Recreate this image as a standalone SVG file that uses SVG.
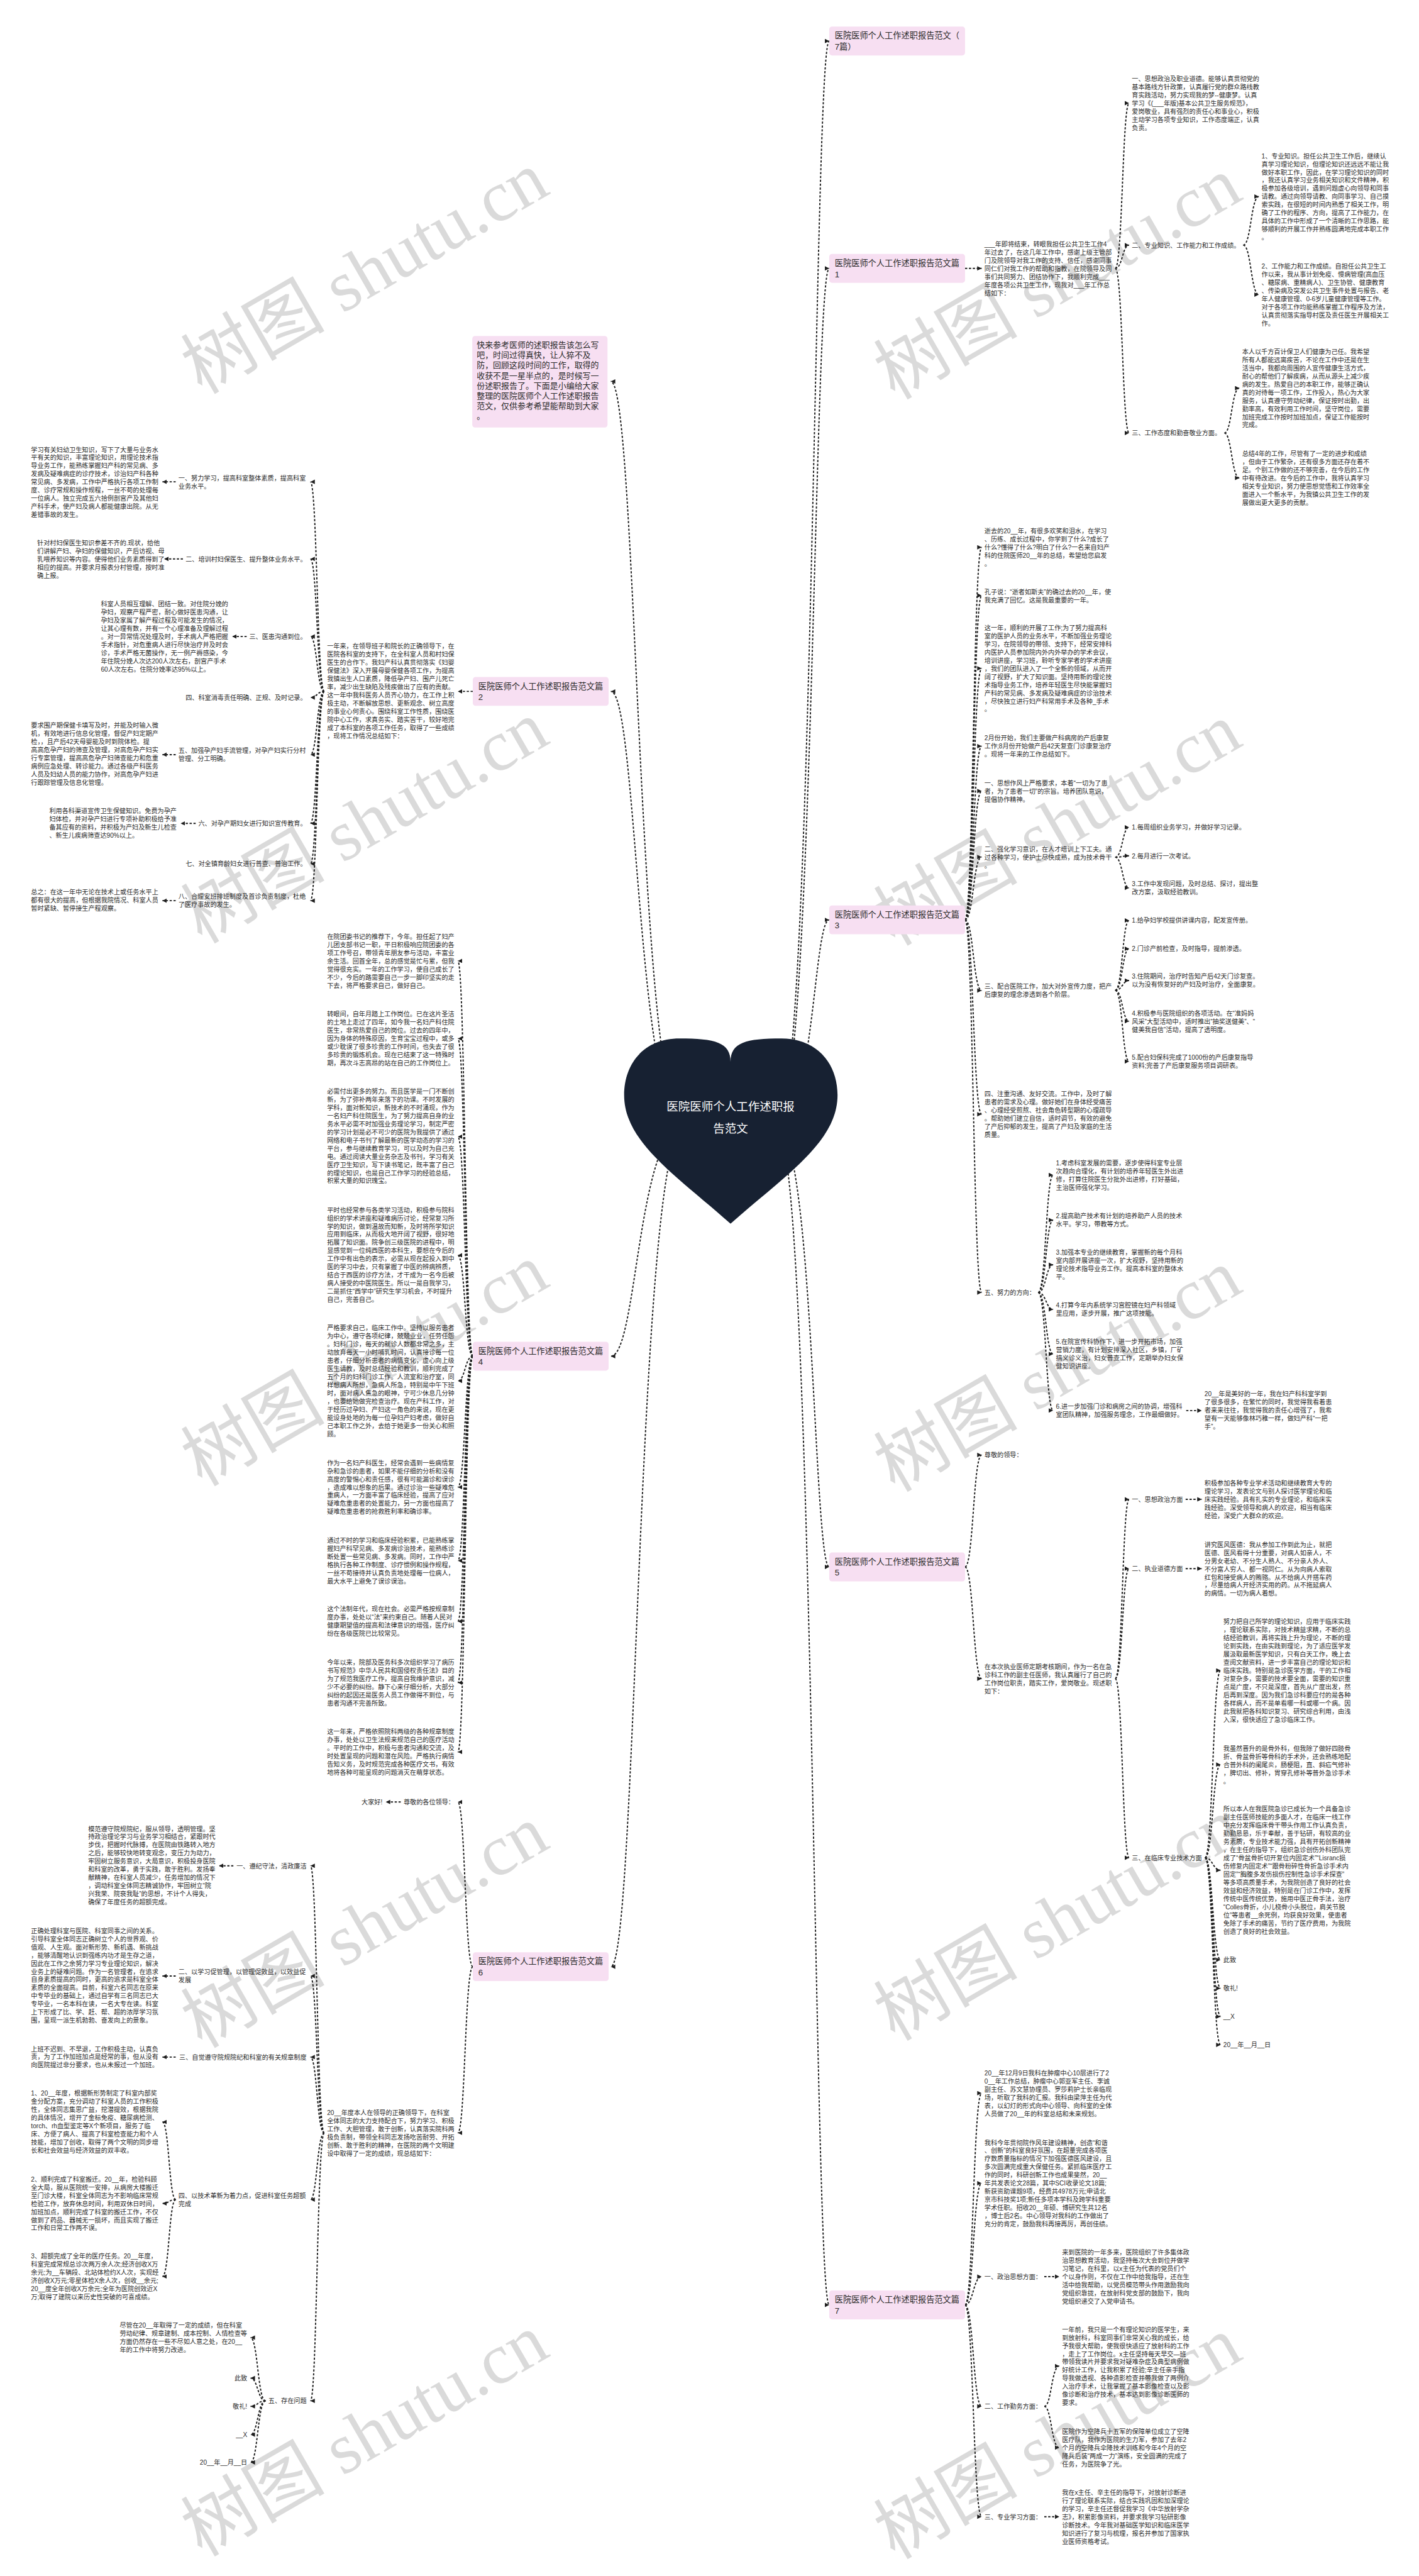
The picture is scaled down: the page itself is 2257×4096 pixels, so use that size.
<svg xmlns="http://www.w3.org/2000/svg" width="2257" height="4096" viewBox="0 0 2257 4096">
<defs>
<style>
.t{font-family:'Liberation Sans','Noto Sans CJK SC',sans-serif;font-size:11.5px;fill:#2b2b2b}
.lb{font-family:'Liberation Sans','Noto Sans CJK SC',sans-serif;font-size:15px;fill:#2b2b2b}
.it{font-family:'Liberation Sans','Noto Sans CJK SC',sans-serif;font-size:14.7px;fill:#2b2b2b}
.box{fill:#f7dff2}
.c{fill:none;stroke:#1e1e1e;stroke-width:2.2;stroke-dasharray:4 3;marker-end:url(#a)}
.wm{font-family:'Liberation Serif','Noto Sans CJK SC',serif;font-size:130px;fill:#dadada}
</style>
<marker id="a" markerUnits="userSpaceOnUse" markerWidth="9" markerHeight="9" refX="8" refY="4" orient="auto"><path d="M0,0 L8,4 L0,8 z" fill="#1e1e1e"/></marker>
</defs>
<rect width="2257" height="4096" fill="#ffffff"/>
<g transform="scale(0.88164)">
<g id="watermarks" class="wm" text-anchor="middle">
<text x="680" y="530" transform="rotate(-30 680 530)">树图 shutu.cn</text>
<text x="1930" y="540" transform="rotate(-30 1930 540)">树图 shutu.cn</text>
<text x="680" y="1521" transform="rotate(-30 680 1521)">树图 shutu.cn</text>
<text x="1930" y="1525" transform="rotate(-30 1930 1525)">树图 shutu.cn</text>
<text x="680" y="2500" transform="rotate(-30 680 2500)">树图 shutu.cn</text>
<text x="1930" y="2510" transform="rotate(-30 1930 2510)">树图 shutu.cn</text>
<text x="680" y="3513" transform="rotate(-30 680 3513)">树图 shutu.cn</text>
<text x="1930" y="3500" transform="rotate(-30 1930 3500)">树图 shutu.cn</text>
<text x="680" y="4430" transform="rotate(-30 680 4430)">树图 shutu.cn</text>
<text x="1930" y="4435" transform="rotate(-30 1930 4435)">树图 shutu.cn</text>
</g>
<g id="connectors">
<path class="c" d="M1400,2030 C1468,2030 1468,74 1496,74"/>
<path class="c" d="M1400,2030 C1468,2030 1468,484 1496,484"/>
<path class="c" d="M1400,2030 C1468,2030 1468,1659 1496,1659"/>
<path class="c" d="M1400,2030 C1468,2030 1468,2826 1496,2826"/>
<path class="c" d="M1400,2030 C1468,2030 1468,4157 1496,4157"/>
<path class="c" d="M1236,2030 C1150,2030 1150,688 1102,688"/>
<path class="c" d="M1236,2030 C1150,2030 1150,1247 1102,1247"/>
<path class="c" d="M1236,2030 C1150,2030 1150,2446 1102,2446"/>
<path class="c" d="M1236,2030 C1150,2030 1150,3547 1102,3547"/>
<path class="c" d="M1741,484 L1771,484"/>
<path class="c" d="M2012,484 C2025,484 2025,186 2037,186"/>
<path class="c" d="M2012,484 C2025,484 2025,442 2037,442"/>
<path class="c" d="M2012,484 C2025,484 2025,781 2037,781"/>
<path class="c" d="M2243,442 C2257,442 2257,354.5 2271,354.5"/>
<path class="c" d="M2243,442 C2257,442 2257,531.5 2271,531.5"/>
<path class="c" d="M2209,781 C2222,781 2222,700 2236,700"/>
<path class="c" d="M2209,781 C2222,781 2222,862 2236,862"/>
<path class="c" d="M1741,1659 C1756,1659 1756,987 1771,987"/>
<path class="c" d="M1741,1659 C1756,1659 1756,1074 1771,1074"/>
<path class="c" d="M1741,1659 C1756,1659 1756,1205.5 1771,1205.5"/>
<path class="c" d="M1741,1659 C1756,1659 1756,1345.7 1771,1345.7"/>
<path class="c" d="M1741,1659 C1756,1659 1756,1426.7 1771,1426.7"/>
<path class="c" d="M1741,1659 C1756,1659 1756,1545.7 1771,1545.7"/>
<path class="c" d="M1741,1659 C1756,1659 1756,1786.4 1771,1786.4"/>
<path class="c" d="M1741,1659 C1756,1659 1756,2009.7 1771,2009.7"/>
<path class="c" d="M1741,1659 C1756,1659 1756,2331 1771,2331"/>
<path class="c" d="M2012,1546 C2025,1546 2025,1492 2037,1492"/>
<path class="c" d="M2012,1546 C2025,1546 2025,1543.5 2037,1543.5"/>
<path class="c" d="M2012,1546 C2025,1546 2025,1601.4 2037,1601.4"/>
<path class="c" d="M2012,1786 C2025,1786 2025,1660 2037,1660"/>
<path class="c" d="M2012,1786 C2025,1786 2025,1711 2037,1711"/>
<path class="c" d="M2012,1786 C2025,1786 2025,1768.4 2037,1768.4"/>
<path class="c" d="M2012,1786 C2025,1786 2025,1841.7 2037,1841.7"/>
<path class="c" d="M2012,1786 C2025,1786 2025,1914.4 2037,1914.4"/>
<path class="c" d="M1873,2331 C1887,2331 1887,2119.1 1900,2119.1"/>
<path class="c" d="M1873,2331 C1887,2331 1887,2200.4 1900,2200.4"/>
<path class="c" d="M1873,2331 C1887,2331 1887,2281 1900,2281"/>
<path class="c" d="M1873,2331 C1887,2331 1887,2361.4 1900,2361.4"/>
<path class="c" d="M1873,2331 C1887,2331 1887,2442 1900,2442"/>
<path class="c" d="M1873,2331 C1887,2331 1887,2543.9 1900,2543.9"/>
<path class="c" d="M2140,2544 L2168,2544"/>
<path class="c" d="M1741,2826 C1756,2826 1756,2624 1771,2624"/>
<path class="c" d="M1741,2826 C1756,2826 1756,3027.5 1771,3027.5"/>
<path class="c" d="M2012,3027.5 C2025,3027.5 2025,2704 2037,2704"/>
<path class="c" d="M2012,3027.5 C2025,3027.5 2025,2829 2037,2829"/>
<path class="c" d="M2012,3027.5 C2025,3027.5 2025,3350.5 2037,3350.5"/>
<path class="c" d="M2139,2704 L2168,2704"/>
<path class="c" d="M2139,2829 L2168,2829"/>
<path class="c" d="M2174,3350.5 C2188,3350.5 2188,3012.7 2202,3012.7"/>
<path class="c" d="M2174,3350.5 C2188,3350.5 2188,3182.4 2202,3182.4"/>
<path class="c" d="M2174,3350.5 C2188,3350.5 2188,3372.9 2202,3372.9"/>
<path class="c" d="M2174,3350.5 C2188,3350.5 2188,3534.7 2202,3534.7"/>
<path class="c" d="M2174,3350.5 C2188,3350.5 2188,3586 2202,3586"/>
<path class="c" d="M2174,3350.5 C2188,3350.5 2188,3637 2202,3637"/>
<path class="c" d="M2174,3350.5 C2188,3350.5 2188,3688 2202,3688"/>
<path class="c" d="M1741,4157 C1756,4157 1756,3775 1771,3775"/>
<path class="c" d="M1741,4157 C1756,4157 1756,3937.5 1771,3937.5"/>
<path class="c" d="M1741,4157 C1756,4157 1756,4106 1771,4106"/>
<path class="c" d="M1741,4157 C1756,4157 1756,4340 1771,4340"/>
<path class="c" d="M1741,4157 C1756,4157 1756,4539 1771,4539"/>
<path class="c" d="M1884,4106 L1911,4106"/>
<path class="c" d="M1884,4340 C1897,4340 1897,4267.2 1911,4267.2"/>
<path class="c" d="M1884,4340 C1897,4340 1897,4414.4 1911,4414.4"/>
<path class="c" d="M1884,4539 L1911,4539"/>
<path class="c" d="M853,1247 L826,1247"/>
<path class="c" d="M585,1247 C572,1247 572,869 560,869"/>
<path class="c" d="M585,1247 C572,1247 572,1008 560,1008"/>
<path class="c" d="M585,1247 C572,1247 572,1148 560,1148"/>
<path class="c" d="M585,1247 C572,1247 572,1258 560,1258"/>
<path class="c" d="M585,1247 C572,1247 572,1361 560,1361"/>
<path class="c" d="M585,1247 C572,1247 572,1485 560,1485"/>
<path class="c" d="M585,1247 C572,1247 572,1558 560,1558"/>
<path class="c" d="M585,1247 C572,1247 572,1624.4 560,1624.4"/>
<path class="c" d="M317,869 L293,869"/>
<path class="c" d="M330,1008 L296,1008"/>
<path class="c" d="M445,1148 L419,1148"/>
<path class="c" d="M317,1361 L293,1361"/>
<path class="c" d="M353,1485 L326,1485"/>
<path class="c" d="M317,1624.4 L293,1624.4"/>
<path class="c" d="M853,2446 C839,2446 839,1733.1 826,1733.1"/>
<path class="c" d="M853,2446 C839,2446 839,1873.1 826,1873.1"/>
<path class="c" d="M853,2446 C839,2446 839,2049.9 826,2049.9"/>
<path class="c" d="M853,2446 C839,2446 839,2263.9 826,2263.9"/>
<path class="c" d="M853,2446 C839,2446 839,2490.6 826,2490.6"/>
<path class="c" d="M853,2446 C839,2446 839,2682.1 826,2682.1"/>
<path class="c" d="M853,2446 C839,2446 839,2814.7 826,2814.7"/>
<path class="c" d="M853,2446 C839,2446 839,2924.1 826,2924.1"/>
<path class="c" d="M853,2446 C839,2446 839,3034.7 826,3034.7"/>
<path class="c" d="M853,2446 C839,2446 839,3159.7 826,3159.7"/>
<path class="c" d="M853,3547 C839,3547 839,3250 826,3250"/>
<path class="c" d="M853,3547 C839,3547 839,3846.7 826,3846.7"/>
<path class="c" d="M723,3250 L696,3250"/>
<path class="c" d="M585,3847 C572,3847 572,3365 560,3365"/>
<path class="c" d="M585,3847 C572,3847 572,3563.8 560,3563.8"/>
<path class="c" d="M585,3847 C572,3847 572,3710 560,3710"/>
<path class="c" d="M585,3847 C572,3847 572,3967 560,3967"/>
<path class="c" d="M585,3847 C572,3847 572,4330 560,4330"/>
<path class="c" d="M421,3365 L395,3365"/>
<path class="c" d="M317,3563.8 L293,3563.8"/>
<path class="c" d="M317,3710 L293,3710"/>
<path class="c" d="M317,3967 C305,3967 305,3827 293,3827"/>
<path class="c" d="M317,3967 C305,3967 305,3974 293,3974"/>
<path class="c" d="M317,3967 C305,3967 305,4105.7 293,4105.7"/>
<path class="c" d="M479,4330 C465,4330 465,4216 452,4216"/>
<path class="c" d="M479,4330 C465,4330 465,4289 452,4289"/>
<path class="c" d="M479,4330 C465,4330 465,4340 452,4340"/>
<path class="c" d="M479,4330 C465,4330 465,4391 452,4391"/>
<path class="c" d="M479,4330 C465,4330 465,4441 452,4441"/>
</g>
<g id="center">
<path d="M1318,1915 C1318,1880 1290,1873 1226,1873 C1160,1873 1126,1920 1126,1975 C1126,2060 1220,2120 1318,2207 C1416,2120 1511,2060 1511,1975 C1511,1920 1476,1873 1410,1873 C1346,1873 1318,1880 1318,1915 Z" fill="#172132"/>
<text x="1318" y="2003" text-anchor="middle" font-family="'Liberation Sans','Noto Sans CJK SC',sans-serif" font-size="21" fill="#ffffff">医院医师个人工作述职报</text>
<text x="1318" y="2043" text-anchor="middle" font-family="'Liberation Sans','Noto Sans CJK SC',sans-serif" font-size="21" fill="#ffffff">告范文</text>
</g>
<g id="intro">
<rect class="box" x="852" y="606" width="244" height="165" rx="5"/>
<text class="it" x="860" y="627.5"><tspan x="860">快来参考医师的述职报告该怎么写</tspan><tspan x="860" dy="18.3">吧，时间过得真快，让人猝不及</tspan><tspan x="860" dy="18.3">防，回顾这段时间的工作，取得的</tspan><tspan x="860" dy="18.3">收获不是一星半点的，是时候写一</tspan><tspan x="860" dy="18.3">份述职报告了。下面是小编给大家</tspan><tspan x="860" dy="18.3">整理的医院医师个人工作述职报告</tspan><tspan x="860" dy="18.3">范文，仅供参考希望能帮助到大家</tspan><tspan x="860" dy="18.3">。</tspan></text>
</g>
<g id="title7">
<rect class="box" x="1496" y="48" width="245" height="52" rx="5"/>
<text class="lb" x="1506" y="69.7"><tspan x="1506">医院医师个人工作述职报告范文（</tspan><tspan x="1506" dy="20">7篇）</tspan></text>
</g>
<g id="p1">
<rect class="box" x="1496" y="458" width="245" height="52" rx="5"/>
<text class="lb" x="1506" y="479.7"><tspan x="1506">医院医师个人工作述职报告范文篇</tspan><tspan x="1506" dy="20">1</tspan></text>
<text class="t" x="1776" y="444.4"><tspan x="1776">___年即将结束，转眼我担任公共卫生工作4</tspan><tspan x="1776" dy="14.7">年过去了，在这几年工作中，感谢上级主管部</tspan><tspan x="1776" dy="14.7">门及院领导对我工作的支持、信任，感谢同事</tspan><tspan x="1776" dy="14.7">同仁们对我工作的帮助和指教，在院领导及同</tspan><tspan x="1776" dy="14.7">事们共同努力、团结协作下，我顺利完成___</tspan><tspan x="1776" dy="14.7">年度各项公共卫生工作，现我对___年工作总</tspan><tspan x="1776" dy="14.7">结如下：</tspan></text>
<text class="t" x="2042" y="146.4"><tspan x="2042">一、思想政治及职业道德。能够认真贯彻党的</tspan><tspan x="2042" dy="14.7">基本路线方针政策，认真履行党的群众路线教</tspan><tspan x="2042" dy="14.7">育实践活动，努力实现我的梦--健康梦。认真</tspan><tspan x="2042" dy="14.7">学习《(___年版)基本公共卫生服务规范》，</tspan><tspan x="2042" dy="14.7">爱岗敬业，具有强烈的责任心和事业心，积极</tspan><tspan x="2042" dy="14.7">主动学习各项专业知识，工作态度端正，认真</tspan><tspan x="2042" dy="14.7">负责。</tspan></text>
<text class="t" x="2042" y="446.4">二、专业知识、工作能力和工作成绩。</text>
<text class="t" x="2276" y="285.4"><tspan x="2276">1、专业知识。担任公共卫生工作后，继续认</tspan><tspan x="2276" dy="14.7">真学习理论知识，但理论知识还远远不能让我</tspan><tspan x="2276" dy="14.7">做好本职工作，因此，在学习理论知识的同时</tspan><tspan x="2276" dy="14.7">，我还认真学习业务相关知识和文件精神，积</tspan><tspan x="2276" dy="14.7">极参加各级培训，遇到问题虚心向领导和同事</tspan><tspan x="2276" dy="14.7">请教。通过向领导请教、向同事学习、自己摸</tspan><tspan x="2276" dy="14.7">索实践，在很短的时间内熟悉了相关工作，明</tspan><tspan x="2276" dy="14.7">确了工作的程序、方向，提高了工作能力，在</tspan><tspan x="2276" dy="14.7">具体的工作中形成了一个清晰的工作思路，能</tspan><tspan x="2276" dy="14.7">够顺利的开展工作并熟练圆满地完成本职工作</tspan><tspan x="2276" dy="14.7">。</tspan></text>
<text class="t" x="2276" y="484.4"><tspan x="2276">2、工作能力和工作成绩。自担任公共卫生工</tspan><tspan x="2276" dy="14.7">作以来，我从事计划免疫、慢病管理(高血压</tspan><tspan x="2276" dy="14.7">、糖尿病、重精病人)、卫生协管、健康教育</tspan><tspan x="2276" dy="14.7">、传染病及突发公共卫生事件处置与报告、老</tspan><tspan x="2276" dy="14.7">年人健康管理、0-6岁儿童健康管理等工作。</tspan><tspan x="2276" dy="14.7">对于各项工作均能熟练掌握工作程序及方法，</tspan><tspan x="2276" dy="14.7">认真贯彻落实指导村医及责任医生开展相关工</tspan><tspan x="2276" dy="14.7">作。</tspan></text>
<text class="t" x="2042" y="785.4">三、工作态度和勤奋敬业方面。</text>
<text class="t" x="2241" y="638.4"><tspan x="2241">本人以千方百计保卫人们健康为己任。我希望</tspan><tspan x="2241" dy="14.7">所有人都能远离疾苦，不论在工作中还是在生</tspan><tspan x="2241" dy="14.7">活当中，我都向周围的人宣传健康生活方式，</tspan><tspan x="2241" dy="14.7">耐心的帮他们了解疾病，从而从源头上减少疾</tspan><tspan x="2241" dy="14.7">病的发生。热爱自己的本职工作，能够正确认</tspan><tspan x="2241" dy="14.7">真的对待每一项工作，工作投入，热心为大家</tspan><tspan x="2241" dy="14.7">服务，认真遵守劳动纪律，保证按时出勤，出</tspan><tspan x="2241" dy="14.7">勤率高，有效利用工作时间，坚守岗位，需要</tspan><tspan x="2241" dy="14.7">加班完成工作按时加班加点，保证工作能按时</tspan><tspan x="2241" dy="14.7">完成。</tspan></text>
<text class="t" x="2241" y="822.4"><tspan x="2241">总结4年的工作，尽管有了一定的进步和成绩</tspan><tspan x="2241" dy="14.7">，但由于工作繁杂，还有很多方面还存在着不</tspan><tspan x="2241" dy="14.7">足。个别工作做的还不够完善，在今后的工作</tspan><tspan x="2241" dy="14.7">中有待改进。在今后的工作中，我将认真学习</tspan><tspan x="2241" dy="14.7">相关专业知识，努力使思想觉悟和工作效率全</tspan><tspan x="2241" dy="14.7">面进入一个新水平，为我镇公共卫生工作的发</tspan><tspan x="2241" dy="14.7">展做出更大更多的贡献。</tspan></text>
</g>
<g id="p3">
<rect class="box" x="1496" y="1633" width="245" height="52" rx="5"/>
<text class="lb" x="1506" y="1654.7"><tspan x="1506">医院医师个人工作述职报告范文篇</tspan><tspan x="1506" dy="20">3</tspan></text>
<text class="t" x="1776" y="961.9"><tspan x="1776">逝去的20__年，有很多欢笑和泪水，在学习</tspan><tspan x="1776" dy="14.7">、历练、成长过程中，你学到了什么?成长了</tspan><tspan x="1776" dy="14.7">什么?懂得了什么?明白了什么?一名来自妇产</tspan><tspan x="1776" dy="14.7">科的住院医师20__年的总结，希望给您启发</tspan><tspan x="1776" dy="14.7">。</tspan></text>
<text class="t" x="1776" y="1071.4"><tspan x="1776">孔子说：“逝者如斯夫”的确过去的20__年，使</tspan><tspan x="1776" dy="14.7">我充满了回忆。这是我最重要的一年。</tspan></text>
<text class="t" x="1776" y="1136.4"><tspan x="1776">这一年，顺利的开展了工作;为了努力提高科</tspan><tspan x="1776" dy="14.7">室的医护人员的业务水平，不断加强业务理论</tspan><tspan x="1776" dy="14.7">学习，在院领导的带领、支持下，经常安排科</tspan><tspan x="1776" dy="14.7">内医护人员参加院内外内外举办的学术会议，</tspan><tspan x="1776" dy="14.7">培训讲座，学习班，聆听专家学者的学术讲座</tspan><tspan x="1776" dy="14.7">，我们的团队进入了一个全新的领域，从而开</tspan><tspan x="1776" dy="14.7">阔了视野，扩大了知识面。坚持用新的理论技</tspan><tspan x="1776" dy="14.7">术指导业务工作，培养年轻医生尽快能掌握妇</tspan><tspan x="1776" dy="14.7">产科的常见病、多发病及疑难病症的诊治技术</tspan><tspan x="1776" dy="14.7">，尽快独立进行妇产科常用手术及各种_手术</tspan><tspan x="1776" dy="14.7">。</tspan></text>
<text class="t" x="1776" y="1335.4"><tspan x="1776">2月份开始，我们主要做产科病房的产后康复</tspan><tspan x="1776" dy="14.7">工作;8月份开始做产后42天复查门诊康复治疗</tspan><tspan x="1776" dy="14.7">。现将一年来的工作总结如下。</tspan></text>
<text class="t" x="1776" y="1416.4"><tspan x="1776">一、思想作风上严格要求，本着“一切为了患</tspan><tspan x="1776" dy="14.7">者，为了患者一切”的宗旨。培养团队意识，</tspan><tspan x="1776" dy="14.7">提倡协作精神。</tspan></text>
<text class="t" x="1776" y="1535.4"><tspan x="1776">二、强化学习意识，在人才培训上下工夫。通</tspan><tspan x="1776" dy="14.7">过各种学习，使护士尽快成熟，成为技术骨干</tspan><tspan x="1776" dy="14.7">。</tspan></text>
<text class="t" x="2042" y="1496.4">1.每周组织业务学习，并做好学习记录。</text>
<text class="t" x="2042" y="1547.9">2.每月进行一次考试。</text>
<text class="t" x="2042" y="1598.4"><tspan x="2042">3.工作中发现问题，及时总结、探讨，提出整</tspan><tspan x="2042" dy="14.7">改方案，汲取经验教训。</tspan></text>
<text class="t" x="1776" y="1783.4"><tspan x="1776">三、配合医院工作，加大对外宣传力度，把产</tspan><tspan x="1776" dy="14.7">后康复的理念渗透到各个阶层。</tspan></text>
<text class="t" x="2042" y="1664.4">1.给孕妇学校提供讲课内容，配发宣传册。</text>
<text class="t" x="2042" y="1715.4">2.门诊产前检查，及时指导，提前渗透。</text>
<text class="t" x="2042" y="1765.4"><tspan x="2042">3.住院期间，治疗时告知产后42天门诊复查。</tspan><tspan x="2042" dy="14.7">以为没有恢复好的产妇及时治疗，全面康复。</tspan></text>
<text class="t" x="2042" y="1831.4"><tspan x="2042">4.积极参与医院组织的各项活动。在“准妈妈</tspan><tspan x="2042" dy="14.7">风采”大型活动中，适时推出“抽奖送健美”、“</tspan><tspan x="2042" dy="14.7">健美我自信”活动，提高了透明度。</tspan></text>
<text class="t" x="2042" y="1911.4"><tspan x="2042">5.配合妇保科完成了1000份的产后康复指导</tspan><tspan x="2042" dy="14.7">资料;完善了产后康复服务项目调研表。</tspan></text>
<text class="t" x="1776" y="1977.4"><tspan x="1776">四、注重沟通、友好交流。工作中，及时了解</tspan><tspan x="1776" dy="14.7">患者的需求及心理。做好她们在身体经受痛苦</tspan><tspan x="1776" dy="14.7">、心理经受煎熬、社会角色转型期的心理疏导</tspan><tspan x="1776" dy="14.7">。帮助她们建立自信，适时调节，有效的避免</tspan><tspan x="1776" dy="14.7">了产后抑郁的发生，提高了产妇及家庭的生活</tspan><tspan x="1776" dy="14.7">质量。</tspan></text>
<text class="t" x="1776" y="2335.4">五、努力的方向：</text>
<text class="t" x="1905" y="2101.4"><tspan x="1905">1.考虑科室发展的需要，逐步使得科室专业层</tspan><tspan x="1905" dy="14.7">次趋向合理化，有计划的培养年轻医生外出进</tspan><tspan x="1905" dy="14.7">修，打算住院医生分批外出进修，打好基础，</tspan><tspan x="1905" dy="14.7">主治医师强化学习。</tspan></text>
<text class="t" x="1905" y="2197.4"><tspan x="1905">2.提高助产技术有计划的培养助产人员的技术</tspan><tspan x="1905" dy="14.7">水平。学习，带教等方式。</tspan></text>
<text class="t" x="1905" y="2263.4"><tspan x="1905">3.加强本专业的继续教育，掌握新的每个月科</tspan><tspan x="1905" dy="14.7">室内部开展讲座一次，扩大视野，坚持用新的</tspan><tspan x="1905" dy="14.7">理论技术指导业务工作。提高本科室的整体水</tspan><tspan x="1905" dy="14.7">平。</tspan></text>
<text class="t" x="1905" y="2358.4"><tspan x="1905">4.打算今年内系统学习宫腔镜在妇产科领域</tspan><tspan x="1905" dy="14.7">里应用，逐步开展，推广这项技能。</tspan></text>
<text class="t" x="1905" y="2424.4"><tspan x="1905">5.在院宣传科协作下，进一步开拓市场，加强</tspan><tspan x="1905" dy="14.7">营销力度，有计划安排深入社区，乡镇，厂矿</tspan><tspan x="1905" dy="14.7">搞义诊义治，妇女普查工作，定期举办妇女保</tspan><tspan x="1905" dy="14.7">健知识讲座。</tspan></text>
<text class="t" x="1905" y="2540.9"><tspan x="1905">6.进一步加强门诊和病房之间的协调，增强科</tspan><tspan x="1905" dy="14.7">室团队精神，加强服务理念，工作最细做好。</tspan></text>
<text class="t" x="2173" y="2518.4"><tspan x="2173">20__年是美好的一年，我在妇产科科室学到</tspan><tspan x="2173" dy="14.7">了很多很多，在繁忙的同时，我觉得我看着患</tspan><tspan x="2173" dy="14.7">者来来往往，我觉得我的责任心增强了，我希</tspan><tspan x="2173" dy="14.7">望有一天能够像林巧稚一样，做妇产科“一把</tspan><tspan x="2173" dy="14.7">手”。</tspan></text>
</g>
<g id="p5">
<rect class="box" x="1496" y="2800" width="245" height="52" rx="5"/>
<text class="lb" x="1506" y="2821.7"><tspan x="1506">医院医师个人工作述职报告范文篇</tspan><tspan x="1506" dy="20">5</tspan></text>
<text class="t" x="1776" y="2628.4">尊敬的领导：</text>
<text class="t" x="1776" y="3009.9"><tspan x="1776">在本次执业医师定期考核期间，作为一名在急</tspan><tspan x="1776" dy="14.7">诊科工作的副主任医师，我认真履行了自己的</tspan><tspan x="1776" dy="14.7">工作岗位职责，踏实工作，爱岗敬业。现述职</tspan><tspan x="1776" dy="14.7">如下：</tspan></text>
<text class="t" x="2042" y="2708.4">一、思想政治方面</text>
<text class="t" x="2173" y="2679.4"><tspan x="2173">积极参加各种专业学术活动和继续教育大专的</tspan><tspan x="2173" dy="14.7">理论学习，发表论文与别人探讨医学理论和临</tspan><tspan x="2173" dy="14.7">床实践经验。具有扎实的专业理论，和临床实</tspan><tspan x="2173" dy="14.7">践经验。深受领导和病人的欢迎，相当有临床</tspan><tspan x="2173" dy="14.7">经验，深受广大群众的欢迎。</tspan></text>
<text class="t" x="2042" y="2833.4">二、执业道德方面</text>
<text class="t" x="2173" y="2789.9"><tspan x="2173">讲究医风医德：我从参加工作到此为止，就把</tspan><tspan x="2173" dy="14.7">医德、医风看得十分重要，对病人如亲人，不</tspan><tspan x="2173" dy="14.7">分男女老幼、不分生人熟人、不分亲人外人、</tspan><tspan x="2173" dy="14.7">不分富人穷人、都一视同仁。从为向病人索取</tspan><tspan x="2173" dy="14.7">红包和接受病人的贿赂。从不给病人开搭车药</tspan><tspan x="2173" dy="14.7">，尽量给病人开经济实用的药。从不拖延病人</tspan><tspan x="2173" dy="14.7">的病情。一切为病人着想。</tspan></text>
<text class="t" x="2042" y="3354.9">三、在临床专业技术方面</text>
<text class="t" x="2207" y="2928.9"><tspan x="2207">努力把自己所学的理论知识，应用于临床实践</tspan><tspan x="2207" dy="14.7">，理论联系实际，对技术精益求精，不断的总</tspan><tspan x="2207" dy="14.7">结经验教训，再将实践上升为理论，不断的理</tspan><tspan x="2207" dy="14.7">论到实践，在由实践到理论，为了适应医学发</tspan><tspan x="2207" dy="14.7">展汲取最新医学知识，只有白天工作，晚上去</tspan><tspan x="2207" dy="14.7">查阅文献资料，进一步丰富自己的理论知识和</tspan><tspan x="2207" dy="14.7">临床实践。特别是急诊医学方面，干的工作相</tspan><tspan x="2207" dy="14.7">对复杂多，需要的技术要全面，需要的知识重</tspan><tspan x="2207" dy="14.7">点是广度，不只是深度，首先从广度出发，然</tspan><tspan x="2207" dy="14.7">后再到深度。因为我们急诊科要应付的是各种</tspan><tspan x="2207" dy="14.7">各样病人，而不是单看哪一科或哪一个病。因</tspan><tspan x="2207" dy="14.7">此我就把各科知识复习、研究综合利用，由浅</tspan><tspan x="2207" dy="14.7">入深，很快适应了急诊临床工作。</tspan></text>
<text class="t" x="2207" y="3157.4"><tspan x="2207">我虽然晋升的是骨外科，但我除了做好四肢骨</tspan><tspan x="2207" dy="14.7">折、骨盆骨折等骨科的手术外，还会熟练地配</tspan><tspan x="2207" dy="14.7">合普外科的阑尾炎，肠梗阻，直、斜疝气修补</tspan><tspan x="2207" dy="14.7">，脾切出、修补，胃穿孔修补等普外急诊手术</tspan><tspan x="2207" dy="14.7">。</tspan></text>
<text class="t" x="2207" y="3267"><tspan x="2207">所以本人在我医院急诊已成长为一个具备急诊</tspan><tspan x="2207" dy="14.7">副主任医师技能的多面人才，在临床一线工作</tspan><tspan x="2207" dy="14.7">中充分发挥临床骨干带头作用工作认真负责，</tspan><tspan x="2207" dy="14.7">勤勤恳恳，乐于奉献，善于钻研，有较高的业</tspan><tspan x="2207" dy="14.7">务素质，专业技术能力强，具有开拓创新精神</tspan><tspan x="2207" dy="14.7">，在主任的指导下，组织急诊创伤外科团队完</tspan><tspan x="2207" dy="14.7">成了“骨盆骨折切开复位内固定术”“Lisranc损</tspan><tspan x="2207" dy="14.7">伤修复内固定术”“跟骨粉碎性骨折急诊手术内</tspan><tspan x="2207" dy="14.7">固定”“胸腹多发伤损伤控制性急诊手术探查”</tspan><tspan x="2207" dy="14.7">等多项高质量手术，为我院创造了良好的社会</tspan><tspan x="2207" dy="14.7">效益和经济效益，特别是在门诊工作中，发挥</tspan><tspan x="2207" dy="14.7">传统中医传统优势，施用中医正骨手法，治疗</tspan><tspan x="2207" dy="14.7">“Colles骨折，小儿桡骨小头脱位，肩关节脱</tspan><tspan x="2207" dy="14.7">位”等患者__余死例，均获良好效果，使患者</tspan><tspan x="2207" dy="14.7">免除了手术的痛苦，节约了医疗费用，为我院</tspan><tspan x="2207" dy="14.7">创造了良好的社会效益。</tspan></text>
<text class="t" x="2207" y="3539.1">此致</text>
<text class="t" x="2207" y="3590.4">敬礼!</text>
<text class="t" x="2207" y="3641.4">__X</text>
<text class="t" x="2207" y="3692.4">20__年__月__日</text>
</g>
<g id="p7">
<rect class="box" x="1496" y="4131" width="245" height="52" rx="5"/>
<text class="lb" x="1506" y="4152.7"><tspan x="1506">医院医师个人工作述职报告范文篇</tspan><tspan x="1506" dy="20">7</tspan></text>
<text class="t" x="1776" y="3742.9"><tspan x="1776">20__年12月9日我科在肿瘤中心10层进行了2</tspan><tspan x="1776" dy="14.7">0__年工作总结，肿瘤中心郭亚军主任、李诚</tspan><tspan x="1776" dy="14.7">副主任、苏文慧协理员、罗莎莉护士长亲临现</tspan><tspan x="1776" dy="14.7">场，听取了我科的汇报。我科由梁萍主任为代</tspan><tspan x="1776" dy="14.7">表，以幻灯的形式向中心领导、向科室的全体</tspan><tspan x="1776" dy="14.7">人员做了20__年的科室总结和未来规划。</tspan></text>
<text class="t" x="1776" y="3868.4"><tspan x="1776">我科今年贯彻院作风年建设精神，创造“和谐</tspan><tspan x="1776" dy="14.7">、创新”的科室良好氛围，在超量完成各项医</tspan><tspan x="1776" dy="14.7">疗数质量指标的情况下加强医德医风建设，且</tspan><tspan x="1776" dy="14.7">多次圆满完成重大保健任务。紧抓临床医疗工</tspan><tspan x="1776" dy="14.7">作的同时，科研创新工作也成果斐然，20__</tspan><tspan x="1776" dy="14.7">年共发表论文28篇，其中SCI收录论文18篇;</tspan><tspan x="1776" dy="14.7">新获资助课题9项，经费共4978万元;申请北</tspan><tspan x="1776" dy="14.7">京市科技奖1项;新任多项本学科及跨学科重要</tspan><tspan x="1776" dy="14.7">学术任职。招收20__年硕、博研究生共12名</tspan><tspan x="1776" dy="14.7">，博士后2名。中心领导对我科的工作做出了</tspan><tspan x="1776" dy="14.7">充分的肯定，鼓励我科再接再厉，再创佳绩。</tspan></text>
<text class="t" x="1776" y="4110.4">一、政治思想方面：</text>
<text class="t" x="1916" y="4066.4"><tspan x="1916">来到医院的一年多来，医院组织了许多集体政</tspan><tspan x="1916" dy="14.7">治思想教育活动，我坚持每次大会到位并做学</tspan><tspan x="1916" dy="14.7">习笔记，在科里，以x主任为代表的党员们个</tspan><tspan x="1916" dy="14.7">个以身作则，不仅在工作中给我指导，还在生</tspan><tspan x="1916" dy="14.7">活中给我帮助，以党员模范带头作用激励我向</tspan><tspan x="1916" dy="14.7">党组织靠拢，在放射科党支部的鼓励下，我向</tspan><tspan x="1916" dy="14.7">党组织递交了入党申请书。</tspan></text>
<text class="t" x="1776" y="4344.4">二、工作勤务方面：</text>
<text class="t" x="1916" y="4205.4"><tspan x="1916">一年前，我只是一个有理论知识的医学生，来</tspan><tspan x="1916" dy="14.7">到放射科，科室同事们非常关心我的成长，给</tspan><tspan x="1916" dy="14.7">予我很大帮助，使我很快适应了放射科的工作</tspan><tspan x="1916" dy="14.7">，走上了工作岗位。x主任坚持每天早交—班</tspan><tspan x="1916" dy="14.7">带领我读片并要求我对疑难杂症及典型病例做</tspan><tspan x="1916" dy="14.7">好统计工作，让我积累了经验;辛主任亲手指</tspan><tspan x="1916" dy="14.7">导我做透视、各种造影检查并带我做了两例介</tspan><tspan x="1916" dy="14.7">入治疗手术，让我掌握了基本影像检查以及影</tspan><tspan x="1916" dy="14.7">像诊断和治疗技术，基本达到影像诊断医师的</tspan><tspan x="1916" dy="14.7">要求。</tspan></text>
<text class="t" x="1916" y="4389.4"><tspan x="1916">医院作为空降兵十五军的保障单位成立了空降</tspan><tspan x="1916" dy="14.7">医疗队，我作为医院的生力军，参加了去年2</tspan><tspan x="1916" dy="14.7">个月的空降兵伞降技术训练和今年4个月的空</tspan><tspan x="1916" dy="14.7">降兵后装“两成一力”演练，安全圆满的完成了</tspan><tspan x="1916" dy="14.7">任务，为医院争了光。</tspan></text>
<text class="t" x="1776" y="4543.4">三、专业学习方面：</text>
<text class="t" x="1916" y="4499.4"><tspan x="1916">我在x主任、辛主任的指导下，对放射诊断进</tspan><tspan x="1916" dy="14.7">行了理论联系实际，结合实践巩固和加深理论</tspan><tspan x="1916" dy="14.7">的学习，辛主任还督促我学习《中华放射学杂</tspan><tspan x="1916" dy="14.7">志》，积累影像资料，并要求我学习钻研影像</tspan><tspan x="1916" dy="14.7">诊断技术。今年我对基础医学知识和临床医学</tspan><tspan x="1916" dy="14.7">知识进行了复习与梳理，报名并参加了国家执</tspan><tspan x="1916" dy="14.7">业医师资格考试。</tspan></text>
</g>
<g id="p2">
<rect class="box" x="853" y="1221" width="245" height="52" rx="5"/>
<text class="lb" x="863" y="1242.7"><tspan x="863">医院医师个人工作述职报告范文篇</tspan><tspan x="863" dy="20">2</tspan></text>
<text class="t" x="590" y="1169.4"><tspan x="590">一年来，在领导班子和院长的正确领导下，在</tspan><tspan x="590" dy="14.7">医院各科室的支持下，在全科室人员和村妇保</tspan><tspan x="590" dy="14.7">医生的合作下。我妇产科认真贯彻落实《妇婴</tspan><tspan x="590" dy="14.7">保健法》深入开展母婴保健各项工作，为提高</tspan><tspan x="590" dy="14.7">我镇出生人口素质，降低孕产妇、围产儿死亡</tspan><tspan x="590" dy="14.7">率，减少出生缺陷及残疾做出了应有的贡献。</tspan><tspan x="590" dy="14.7">这一年中我科医务人员齐心协力，在工作上积</tspan><tspan x="590" dy="14.7">极主动，不断解放思想、更新观念、树立高度</tspan><tspan x="590" dy="14.7">的事业心何责心。围绕科室工作性质，围绕医</tspan><tspan x="590" dy="14.7">院中心工作，求真务实、踏实苦干，较好地完</tspan><tspan x="590" dy="14.7">成了本科室的各项工作任务，取得了一些成绩</tspan><tspan x="590" dy="14.7">，现将工作情况总结如下：</tspan></text>
<text class="t" x="322" y="866.4"><tspan x="322">一、努力学习，提高科室整体素质，提高科室</tspan><tspan x="322" dy="14.7">业务水平。</tspan></text>
<text class="t" x="56" y="815"><tspan x="56">学习有关妇幼卫生知识，写下了大量与业务水</tspan><tspan x="56" dy="14.7">平有关的知识，丰富理论知识，用理论技术指</tspan><tspan x="56" dy="14.7">导业务工作，能熟练掌握妇产科的常见病、多</tspan><tspan x="56" dy="14.7">发病及疑难病症的诊疗技术，诊治妇产科各种</tspan><tspan x="56" dy="14.7">常见病、多发病，工作中严格执行各项工作制</tspan><tspan x="56" dy="14.7">度、诊疗常规和操作规程，一丝不苟的处理每</tspan><tspan x="56" dy="14.7">一位病人。独立完成五六拾例剖宫产及其他妇</tspan><tspan x="56" dy="14.7">产科手术，使产妇及病人都能健康出院。从无</tspan><tspan x="56" dy="14.7">差错事故的发生。</tspan></text>
<text class="t" x="553" y="1012.4" text-anchor="end">二、培训村妇保医生、提升整体业务水平。</text>
<text class="t" x="67" y="983.4"><tspan x="67">针对村妇保医生知识参差不齐的.现状，给他</tspan><tspan x="67" dy="14.7">们讲解产妇、孕妇的保健知识，产后访视、母</tspan><tspan x="67" dy="14.7">乳喂养知识等内容。使得他们业务素质得到了</tspan><tspan x="67" dy="14.7">相应的提高。并要求月报表分村管理，按时准</tspan><tspan x="67" dy="14.7">确上报。</tspan></text>
<text class="t" x="553" y="1152.4" text-anchor="end">三、医患沟通到位。</text>
<text class="t" x="182" y="1093.4"><tspan x="182">科室人员相互理解、团结一致。对住院分娩的</tspan><tspan x="182" dy="14.7">孕妇，观察产程严密，耐心做好医患沟通，让</tspan><tspan x="182" dy="14.7">孕妇及家属了解产程过程及可能发生的情况，</tspan><tspan x="182" dy="14.7">让其心理有数，并有一个心理准备及理解过程</tspan><tspan x="182" dy="14.7">。对一异常情况处理及时，手术病人严格把握</tspan><tspan x="182" dy="14.7">手术指针，对危重病人进行尽快治疗并及时会</tspan><tspan x="182" dy="14.7">诊，手术严格无菌操作，无一例产褥感染，今</tspan><tspan x="182" dy="14.7">年住院分娩人次达200人次左右，剖宫产手术</tspan><tspan x="182" dy="14.7">60人次左右。住院分娩率达95%以上。</tspan></text>
<text class="t" x="553" y="1262.4" text-anchor="end">四、科室消毒责任明确、正规、及时记录。</text>
<text class="t" x="322" y="1358"><tspan x="322">五、加强孕产妇手流管理，对孕产妇实行分村</tspan><tspan x="322" dy="14.7">管理、分工明确。</tspan></text>
<text class="t" x="56" y="1312.4"><tspan x="56">要求围产期保健卡填写及时，并能及时输入微</tspan><tspan x="56" dy="14.7">机，有效地进行信息化管理，督促产妇定期产</tspan><tspan x="56" dy="14.7">检，，且产后42天母婴能及时到院体检。提</tspan><tspan x="56" dy="14.7">高高危孕产妇的筛查及管理，对高危孕产妇实</tspan><tspan x="56" dy="14.7">行专案管理，提高高危孕产妇筛查能力和危重</tspan><tspan x="56" dy="14.7">病例应急处理、转诊能力。通过各级产科医务</tspan><tspan x="56" dy="14.7">人员及妇幼人员的能力协作，对高危孕产妇进</tspan><tspan x="56" dy="14.7">行跟踪管理及信息化管理。</tspan></text>
<text class="t" x="553" y="1489.4" text-anchor="end">六、对孕产期妇女进行知识宣传教育。</text>
<text class="t" x="89" y="1466.4"><tspan x="89">利用各科渠道宣传卫生保健知识。免费为孕产</tspan><tspan x="89" dy="14.7">妇体检，并对孕产妇进行专项补助积极给予准</tspan><tspan x="89" dy="14.7">备其应有的资料，并积极为产妇及新生儿检查</tspan><tspan x="89" dy="14.7">、新生儿疾病筛查达90%以上。</tspan></text>
<text class="t" x="553" y="1562.4" text-anchor="end">七、对全镇育龄妇女进行普查、普治工作。</text>
<text class="t" x="322" y="1621.4"><tspan x="322">八、合理安班排班制度及首诊负责制度，杜绝</tspan><tspan x="322" dy="14.7">了医疗事故的发生。</tspan></text>
<text class="t" x="56" y="1613.4"><tspan x="56">总之：在这一年中无论在技术上或任务水平上</tspan><tspan x="56" dy="14.7">都有很大的提高，但根据我院情况、科室人员</tspan><tspan x="56" dy="14.7">暂时紧缺、暂停接生产程观察。</tspan></text>
</g>
<g id="p4">
<rect class="box" x="853" y="2420" width="245" height="52" rx="5"/>
<text class="lb" x="863" y="2441.7"><tspan x="863">医院医师个人工作述职报告范文篇</tspan><tspan x="863" dy="20">4</tspan></text>
<text class="t" x="590" y="1693.4"><tspan x="590">在院团委书记的推荐下，今年。担任起了妇产</tspan><tspan x="590" dy="14.7">儿团支部书记一职，平日积极响应院团委的各</tspan><tspan x="590" dy="14.7">项工作号召，带领青年朋友参与活动，丰富业</tspan><tspan x="590" dy="14.7">余生活。回首全年，总的感觉是忙与累，但我</tspan><tspan x="590" dy="14.7">觉得很充实。一年的工作学习，使自己成长了</tspan><tspan x="590" dy="14.7">不少，今后的路需要自己一步一脚印坚实的走</tspan><tspan x="590" dy="14.7">下去，将严格要求自己，做好自己。</tspan></text>
<text class="t" x="590" y="1833.4"><tspan x="590">转眼间，自年月踏上工作岗位。已在这片圣洁</tspan><tspan x="590" dy="14.7">的土地上走过了四年，如今我一名妇产科住院</tspan><tspan x="590" dy="14.7">医生，非常热爱自己的岗位。过去的四年中，</tspan><tspan x="590" dy="14.7">因为身体的特殊原因，生育宝宝过程中，或多</tspan><tspan x="590" dy="14.7">或少耽误了很多珍贵的工作时间，也失去了很</tspan><tspan x="590" dy="14.7">多珍贵的锻炼机会。现在已结束了这一特殊时</tspan><tspan x="590" dy="14.7">期，再次斗志高昂的站在自己的工作岗位上。</tspan></text>
<text class="t" x="590" y="1972.4"><tspan x="590">必需付出更多的努力。而且医学是一门不断创</tspan><tspan x="590" dy="14.7">新，为了弥补两年来落下的功课。不时发展的</tspan><tspan x="590" dy="14.7">学科，面对新知识，新技术的不时涌现，作为</tspan><tspan x="590" dy="14.7">一名妇产科住院医生，为了努力提高自身的业</tspan><tspan x="590" dy="14.7">务水平必需不时加强业务理论学习，制定严密</tspan><tspan x="590" dy="14.7">的学习计划是必不可少的医院为我提供了通过</tspan><tspan x="590" dy="14.7">网络和电子书刊了解最新的医学动态的学习的</tspan><tspan x="590" dy="14.7">平台，参与继续教育学习，可以及时为自己充</tspan><tspan x="590" dy="14.7">电。通过阅读大量业务杂志及书刊，学习有关</tspan><tspan x="590" dy="14.7">医疗卫生知识，写下读书笔记，既丰富了自己</tspan><tspan x="590" dy="14.7">的理论知识，也是自己工作学习的经验总结，</tspan><tspan x="590" dy="14.7">积累大量的知识瑰宝。</tspan></text>
<text class="t" x="590" y="2186.4"><tspan x="590">平时也经常参与各类学习活动，积极参与院科</tspan><tspan x="590" dy="14.7">组织的学术讲座和疑难病历讨论，经常复习所</tspan><tspan x="590" dy="14.7">学的知识，做到温故而知新，及时将所学知识</tspan><tspan x="590" dy="14.7">应用到临床，从而极大地开阔了视野，很好地</tspan><tspan x="590" dy="14.7">拓展了知识面。院争创三级医院的进程中，明</tspan><tspan x="590" dy="14.7">显感觉到一位纯西医的本科生，要想在今后的</tspan><tspan x="590" dy="14.7">工作中有出色的表示，必需从现在起投入到中</tspan><tspan x="590" dy="14.7">医的学习中去，只有掌握了中医的辨病辨质，</tspan><tspan x="590" dy="14.7">结合于西医的诊疗方法，才干成为一名今后被</tspan><tspan x="590" dy="14.7">病人接受的中医院医生。所以一是自我学习，</tspan><tspan x="590" dy="14.7">二是抓住“西学中”研究生学习机会，不时提升</tspan><tspan x="590" dy="14.7">自己，完善自己。</tspan></text>
<text class="t" x="590" y="2399.4"><tspan x="590">严格要求自己，临床工作中。坚持以服务患者</tspan><tspan x="590" dy="14.7">为中心，遵守各项纪律，兢兢业业，任劳任怨</tspan><tspan x="590" dy="14.7">。妇科门诊，每天的就诊人数都非常之多，主</tspan><tspan x="590" dy="14.7">动放弃每天一小时哺乳时间，认真接诊每一位</tspan><tspan x="590" dy="14.7">患者，仔细分析患者的病情变化，虚心向上级</tspan><tspan x="590" dy="14.7">医生请教，及时总结经验和教训，顺利完成了</tspan><tspan x="590" dy="14.7">五个月的妇科门诊工作。人流室和治疗室，同</tspan><tspan x="590" dy="14.7">样想病人所想，急病人所急，特别是中午下班</tspan><tspan x="590" dy="14.7">时，面对病人焦急的眼神，宁可少休息几分钟</tspan><tspan x="590" dy="14.7">，也要给她做完检查治疗。现在产科工作，对</tspan><tspan x="590" dy="14.7">于经历过孕妇、产妇这一角色的来说，现在更</tspan><tspan x="590" dy="14.7">能设身处地的为每一位孕妇产妇考虑，做好自</tspan><tspan x="590" dy="14.7">己本职工作之外，去给于她更多一份关心和照</tspan><tspan x="590" dy="14.7">顾。</tspan></text>
<text class="t" x="590" y="2642.4"><tspan x="590">作为一名妇产科医生，经常会遇到一些病情复</tspan><tspan x="590" dy="14.7">杂和急诊的患者，如果不能仔细的分析和没有</tspan><tspan x="590" dy="14.7">高度的警惕心和责任感，很有可能漏诊和误诊</tspan><tspan x="590" dy="14.7">，造成难以想象的后果。通过诊治一些疑难危</tspan><tspan x="590" dy="14.7">重病人，一方面丰富了临床经验，提高了应对</tspan><tspan x="590" dy="14.7">疑难危重患者的处置能力，另一方面也提高了</tspan><tspan x="590" dy="14.7">疑难危重患者的抢救胜利率和确诊率。</tspan></text>
<text class="t" x="590" y="2782.4"><tspan x="590">通过不时的学习和临床经验积累，已能熟练掌</tspan><tspan x="590" dy="14.7">握妇产科罕见病、多发病诊治技术，能熟练诊</tspan><tspan x="590" dy="14.7">断处置一些常见病、多发病。同时，工作中严</tspan><tspan x="590" dy="14.7">格执行各种工作制度、诊疗惯例和操作规程，</tspan><tspan x="590" dy="14.7">一丝不苟接待并认真负责地处理每一位病人，</tspan><tspan x="590" dy="14.7">最大水平上避免了误诊误治。</tspan></text>
<text class="t" x="590" y="2906.4"><tspan x="590">这个法制年代，现在社会。必需严格按规章制</tspan><tspan x="590" dy="14.7">度办事，处处以“法”来约束自己。随着人民对</tspan><tspan x="590" dy="14.7">健康期望值的提高和法律意识的增强，医疗纠</tspan><tspan x="590" dy="14.7">纷在各级医院已比较常见。</tspan></text>
<text class="t" x="590" y="3002.4"><tspan x="590">今年以来，院部及医务科多次组织学习了病历</tspan><tspan x="590" dy="14.7">书写规范》中华人民共和国侵权责任法》目的</tspan><tspan x="590" dy="14.7">为了规范我医疗工作，提高自我维护意识，减</tspan><tspan x="590" dy="14.7">少不必要的纠纷。静下心来仔细分析，大部分</tspan><tspan x="590" dy="14.7">纠纷的起因还是医务人员工作做得不到位，与</tspan><tspan x="590" dy="14.7">患者沟通不完善所致。</tspan></text>
<text class="t" x="590" y="3127.4"><tspan x="590">这一年来，严格依照院科两级的各种规章制度</tspan><tspan x="590" dy="14.7">办事，处处以卫生法规来规范自己的医疗活动</tspan><tspan x="590" dy="14.7">。平时的工作中，积极与患者沟通和交流，及</tspan><tspan x="590" dy="14.7">时处置呈现的问题和潜在风险。严格执行病情</tspan><tspan x="590" dy="14.7">告知义务，及时规范完成各种医疗文书，有效</tspan><tspan x="590" dy="14.7">地将各种可能呈现的问题消灭在萌芽状态。</tspan></text>
</g>
<g id="p6">
<rect class="box" x="853" y="3521" width="245" height="52" rx="5"/>
<text class="lb" x="863" y="3542.7"><tspan x="863">医院医师个人工作述职报告范文篇</tspan><tspan x="863" dy="20">6</tspan></text>
<text class="t" x="820" y="3254.4" text-anchor="end">尊敬的各位领导：</text>
<text class="t" x="690" y="3254.4" text-anchor="end">大家好!</text>
<text class="t" x="590" y="3814.4"><tspan x="590">20__年度本人在领导的正确领导下，在科室</tspan><tspan x="590" dy="14.7">全体同志的大力支持配合下，努力学习、积极</tspan><tspan x="590" dy="14.7">工作、大胆管理，敢于创新，认真落实院科两</tspan><tspan x="590" dy="14.7">极负责制，带领全科同志发扬吃苦耐劳、开拓</tspan><tspan x="590" dy="14.7">创新、敢于胜利的精神，在医院的两个文明建</tspan><tspan x="590" dy="14.7">设中取得了一定的成绩，现总结如下：</tspan></text>
<text class="t" x="553" y="3369.4" text-anchor="end">一、遵纪守法，清政廉洁</text>
<text class="t" x="159" y="3302.4"><tspan x="159">模范遵守院规院纪，服从领导，透明管理。坚</tspan><tspan x="159" dy="14.7">持政治理论学习与业务学习相结合，紧跟时代</tspan><tspan x="159" dy="14.7">步伐，把握时代脉搏，在医院由铁路转入地方</tspan><tspan x="159" dy="14.7">之后，能够较快地转变观念，变压力为动力，</tspan><tspan x="159" dy="14.7">牢固树立服务意识，大局意识，积极投身医院</tspan><tspan x="159" dy="14.7">和科室的改革，勇于实践，敢于胜利。发扬奉</tspan><tspan x="159" dy="14.7">献精神，在科室人员减少，任务增加的情况下</tspan><tspan x="159" dy="14.7">，调动科室全体同志精诚协作，牢固树立“院</tspan><tspan x="159" dy="14.7">兴我荣、院衰我耻”的思想，不计个人得失，</tspan><tspan x="159" dy="14.7">确保了年度任务的超额完成。</tspan></text>
<text class="t" x="322" y="3560.9"><tspan x="322">二、以学习促管理，以管理促效益，以效益促</tspan><tspan x="322" dy="14.7">发展</tspan></text>
<text class="t" x="56" y="3486.4"><tspan x="56">正确处理科室与医院、科室同事之间的关系。</tspan><tspan x="56" dy="14.7">引导科室全体同志正确树立个人的世界观、价</tspan><tspan x="56" dy="14.7">值观、人生观。面对新形势、新机遇、新挑战</tspan><tspan x="56" dy="14.7">，能够清醒地认识到强练内功才是生存之道，</tspan><tspan x="56" dy="14.7">因此在工作之余努力学习专业理论知识，解决</tspan><tspan x="56" dy="14.7">业务上的疑难问题。作为一名管理者，在追求</tspan><tspan x="56" dy="14.7">自身素质提高的同时，更高的追求是科室全体</tspan><tspan x="56" dy="14.7">素质的全面提高。目前，科室六名同志在原来</tspan><tspan x="56" dy="14.7">中专毕业的基础上，通过自学有三名同志已大</tspan><tspan x="56" dy="14.7">专毕业，一名本科在读，一名大专在读。科室</tspan><tspan x="56" dy="14.7">上下形成了比、学、赶、帮、超的浓厚学习氛</tspan><tspan x="56" dy="14.7">围，呈现一派生机勃勃、奋发向上的景象。</tspan></text>
<text class="t" x="553" y="3714.4" text-anchor="end">三、自觉遵守院规院纪和科室的有关规章制度</text>
<text class="t" x="56" y="3699.4"><tspan x="56">上班不迟到、不早退，工作积极主动，认真负</tspan><tspan x="56" dy="14.7">责，为了工作加班加点是经常的事，但从没有</tspan><tspan x="56" dy="14.7">向医院提过非分要求，也从未报过一个加班。</tspan></text>
<text class="t" x="322" y="3964.4"><tspan x="322">四、以技术革新为着力点，促进科室任务超额</tspan><tspan x="322" dy="14.7">完成</tspan></text>
<text class="t" x="56" y="3779.9"><tspan x="56">1、20__年度，根据新形势制定了科室内部奖</tspan><tspan x="56" dy="14.7">金分配方案，充分调动了科室人员的工作积极</tspan><tspan x="56" dy="14.7">性，全体同志集思广益，挖潜提效，根据我院</tspan><tspan x="56" dy="14.7">的具体情况，增开了金标免疫、糖尿病检测、</tspan><tspan x="56" dy="14.7">torch、rh血型鉴定等X个新项目，服务了临</tspan><tspan x="56" dy="14.7">床、方便了病人、提高了科室检查能力和个人</tspan><tspan x="56" dy="14.7">技能，增加了创收，取得了两个文明的同步增</tspan><tspan x="56" dy="14.7">长和社会效益与经济效益的双丰收。</tspan></text>
<text class="t" x="56" y="3934.4"><tspan x="56">2、顺利完成了科室搬迁。20__年，检验科顾</tspan><tspan x="56" dy="14.7">全大局，服从医院统一安排，从病房大楼搬迁</tspan><tspan x="56" dy="14.7">至门诊大楼，科室全体同志为不影响临床常规</tspan><tspan x="56" dy="14.7">检验工作，放弃休息时间，利用双休日时间，</tspan><tspan x="56" dy="14.7">加班加点，顺利完成了科室的搬迁工作，不仅</tspan><tspan x="56" dy="14.7">做到了药品、器械无一损坏，而且实现了搬迁</tspan><tspan x="56" dy="14.7">工作和日常工作两不误。</tspan></text>
<text class="t" x="56" y="4073.4"><tspan x="56">3、超额完成了全年的医疗任务。20__年度，</tspan><tspan x="56" dy="14.7">科室完成常规总诊次两万余人次;经济创收X万</tspan><tspan x="56" dy="14.7">余元;为__车辆段、北站体检约X人次，实现经</tspan><tspan x="56" dy="14.7">济创收X万元;零星体检X余人次，创收__余元;</tspan><tspan x="56" dy="14.7">20__度全年创收X万余元;全年为医院创效近X</tspan><tspan x="56" dy="14.7">万;取得了建院以来历史性突破的可喜成绩。</tspan></text>
<text class="t" x="553" y="4334.4" text-anchor="end">五、存在问题</text>
<text class="t" x="216" y="4198.4"><tspan x="216">尽管在20__年取得了一定的成绩，但在科室</tspan><tspan x="216" dy="14.7">劳动纪律、规章建制、成本控制、人情检查等</tspan><tspan x="216" dy="14.7">方面仍然存在一些不尽如人意之处，在20__</tspan><tspan x="216" dy="14.7">年的工作中将努力改进。</tspan></text>
<text class="t" x="446" y="4293.4" text-anchor="end">此致</text>
<text class="t" x="446" y="4344.4" text-anchor="end">敬礼!</text>
<text class="t" x="446" y="4395.4" text-anchor="end">__X</text>
<text class="t" x="446" y="4445.4" text-anchor="end">20__年__月__日</text>
</g>
</g>
</svg>
